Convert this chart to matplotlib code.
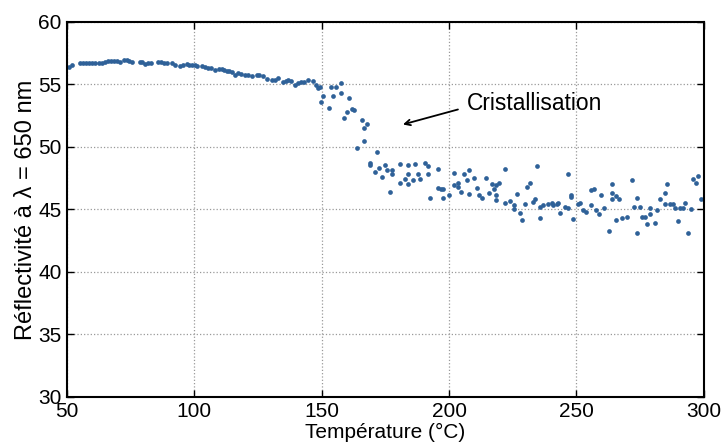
import matplotlib
matplotlib.use("Agg")
import matplotlib.pyplot as plt

# temperature (°C) and reflectivity
temp = [50.7, 51.8, 55.2, 56.4, 57.6, 58.8, 60.0, 61.2, 62.4, 63.6, 64.8, 66.0, 67.2, 68.4,
        69.6, 70.8, 72.4, 73.4, 74.4, 75.5, 78.6, 79.5, 80.5, 81.8, 83.0, 85.8, 86.9, 88.0,
        89.3, 91.4, 92.4, 94.3, 95.4, 97.0, 98.0, 99.0, 100.2, 101.2, 102.9, 104.0, 105.5,
        106.5, 108.0, 109.5, 110.7, 111.8, 112.7, 113.8, 114.6, 116.0, 117.2, 118.4, 119.9,
        121.0, 122.5, 124.5, 125.5, 127.0, 128.4, 130.5, 131.6, 133.0, 134.9, 136.0, 136.9,
        138.0, 139.5, 140.6, 141.8, 143.0, 144.7, 146.5, 147.6, 148.6,
        149.3, 149.8, 150.6, 152.7, 153.7, 154.5, 155.8, 157.7, 157.7, 158.7, 159.8, 160.8,
        161.9, 162.8, 163.8, 165.8, 166.7, 167.7, 166.7, 168.8, 168.8, 170.8, 171.8, 172.7,
        173.7, 174.7, 175.7, 176.8, 177.7, 177.7, 180.7, 180.7, 182.7, 183.7, 183.7, 183.7,
        185.7, 186.7, 187.7, 188.7, 190.7, 191.7, 191.7, 192.7, 195.7, 195.7, 197.0, 197.7,
        197.7, 199.8, 201.8, 201.8, 203.7, 203.7, 204.7, 205.8, 206.9, 207.8, 207.8, 209.7,
        210.8, 211.7, 212.8, 214.7, 215.7, 216.7, 217.7, 218.6, 218.6, 218.6, 219.7, 221.8,
        221.8, 223.9, 225.7, 225.7, 226.7, 227.8, 228.7, 229.7, 230.8, 231.7, 232.8, 233.7,
        234.7, 235.6, 235.6, 236.7, 238.8, 240.6, 240.9, 242.2, 242.8, 243.7, 245.7, 246.6,
        246.7, 247.7, 247.7, 248.7, 250.7, 251.6, 252.6, 253.7, 255.8, 255.8, 256.8, 257.9,
        258.8, 259.7, 260.8, 262.7, 263.8, 263.8, 263.8, 265.7, 265.7, 266.8, 267.8, 269.8,
        271.9, 272.8, 273.8, 273.8, 274.9, 275.8, 276.8, 277.7, 278.8, 278.8, 280.8, 281.7,
        282.7, 284.7, 284.7, 285.7, 286.9, 287.9, 288.9, 289.9, 290.8, 291.9, 292.8, 293.8,
        294.9, 295.8, 296.9, 297.9, 298.9]
refl = [56.43, 56.56, 56.69, 56.75, 56.75, 56.75, 56.75, 56.75, 56.75, 56.75, 56.78, 56.85,
        56.85, 56.85, 56.85, 56.83, 56.96, 56.96, 56.85, 56.78, 56.83, 56.80, 56.64, 56.72,
        56.72, 56.83, 56.78, 56.72, 56.72, 56.69, 56.56, 56.51, 56.53, 56.64, 56.59, 56.56,
        56.53, 56.50, 56.48, 56.43, 56.35, 56.32, 56.16, 56.24, 56.20, 56.12, 56.08, 56.06,
        56.03, 55.76, 55.90, 55.85, 55.76, 55.79, 55.68, 55.76, 55.72, 55.70, 55.44, 55.36,
        55.36, 55.50, 55.23, 55.30, 55.36, 55.28, 54.96, 55.10, 55.23, 55.20, 55.33, 55.30,
        54.96, 54.75,
        54.77, 53.63, 54.10, 53.15, 54.83, 54.10, 54.83, 55.12, 54.33, 52.35, 52.83, 53.93,
        53.04, 52.93, 49.92, 52.13, 51.52, 51.84, 50.45, 48.74, 48.53, 48.03, 49.63, 48.33,
        47.63, 48.53, 48.13, 46.43, 48.13, 47.81, 48.64, 47.14, 47.44, 48.53, 47.82, 47.04,
        47.33, 48.64, 47.84, 47.44, 48.75, 48.45, 47.84, 45.93, 48.24, 46.75, 46.64, 46.64,
        45.92, 46.13, 47.95, 46.96, 47.15, 46.83, 46.43, 47.84, 47.33, 48.13, 46.24, 47.55,
        46.75, 46.13, 45.92, 47.55, 46.35, 47.04, 46.64, 46.93, 46.13, 45.73, 47.15, 48.24,
        45.55, 45.65, 45.33, 45.01, 46.24, 44.72, 44.13, 45.44, 46.83, 47.15, 45.63, 45.84,
        48.45, 45.17, 44.35, 45.36, 45.44, 45.55, 45.33, 45.44, 45.50, 44.74, 45.23, 45.15,
        47.84, 46.16, 45.98, 44.24, 45.44, 45.55, 44.93, 44.83, 45.36, 46.53, 46.64, 44.93,
        44.64, 46.16, 45.15, 43.25, 47.04, 46.35, 45.82, 44.13, 46.08, 45.84, 44.35, 44.43,
        47.33, 45.23, 45.92, 43.15, 45.23, 44.43, 44.43, 43.84, 45.15, 44.64, 43.95, 44.93,
        45.84, 46.35, 45.44, 47.04, 45.44, 45.44, 45.15, 44.05, 45.15, 45.15, 45.55, 43.15,
        45.04, 47.44, 47.15, 47.66, 45.84]

xticks = [50, 100, 150, 200, 250, 300]
yticks = [30, 35, 40, 45, 50, 55, 60]

plt.rcParams['font.family'] = ['Liberation Sans', 'DejaVu Sans']

fig = plt.figure(figsize=(7.24, 4.45), dpi=100)
ax = fig.add_axes([0.0925, 0.108, 0.8795, 0.8426])

ax.plot(temp, refl, 'o', color='#2f6198', markersize=3.4, markeredgewidth=0)

ax.set_xlim(50, 300)
ax.set_ylim(30, 60)
ax.set_xticks(xticks)
ax.set_yticks(yticks)
ax.grid(True, linestyle=':', color='#999999', linewidth=0.9)
ax.tick_params(direction='in', length=5, width=1, labelsize=15, top=True, right=True, pad=4)
for s in ax.spines.values():
    s.set_linewidth(1.5)

ax.set_xlabel('Température (°C)', fontsize=15, labelpad=1)
ax.set_ylabel('Réflectivité à λ = 650 nm', fontsize=17, labelpad=1)

# arrow + label
ax.annotate('', xy=(181.9, 51.8), xytext=(203.5, 53.0),
            arrowprops=dict(arrowstyle='->', color='black', lw=1.3, shrinkA=0, shrinkB=0))
ax.text(207, 53.45, 'Cristallisation', fontsize=16.4, va='center', ha='left')

fig.savefig('out.png', dpi=100)
